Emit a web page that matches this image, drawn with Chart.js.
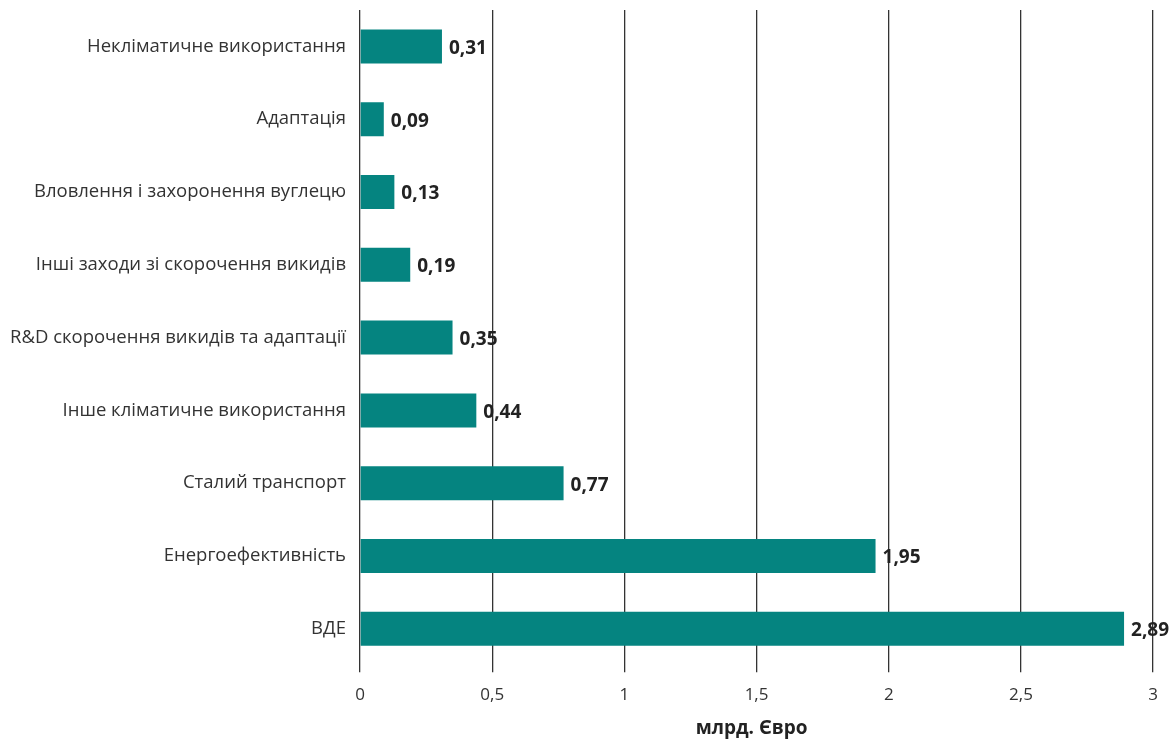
<!DOCTYPE html>
<html>
<head>
<meta charset="utf-8">
<script src="https://cdn.jsdelivr.net/npm/chart.js@4.4.0/dist/chart.umd.min.js"></script>
<style>
  html, body { margin: 0; padding: 0; background: #fff; }
  #wrap { width: 1171px; height: 740px; }
</style>
</head>
<body>
<div id="wrap"><canvas id="chart" width="1171" height="740"></canvas></div>
<script>
const categories = [
    'Некліматичне використання',
    'Адаптація',
    'Вловлення і захоронення вуглецю',
    'Інші заходи зі скорочення викидів',
    'R&D скорочення викидів та адаптації',
    'Інше кліматичне використання',
    'Сталий транспорт',
    'Енергоефективність',
    'ВДЕ'
];
const values = [0.31, 0.09, 0.13, 0.19, 0.35, 0.44, 0.77, 1.95, 2.89];
const axisTitle = 'млрд. Євро';

// value labels next to bar ends + the axis title (slightly left of centre, like the original)
const valueLabels = {
    id: 'valueLabels',
    afterDatasetsDraw(chart) {
        const ctx = chart.ctx;
        const meta = chart.getDatasetMeta(0);
        ctx.save();
        ctx.font = 'bold 19px "Open Sans"';
        ctx.fillStyle = '#222';
        ctx.textAlign = 'left';
        ctx.textBaseline = 'middle';
        meta.data.forEach((bar, i) => {
            ctx.fillText(values[i].toFixed(2).replace('.', ','), bar.x + 7, bar.y + 2);
        });

        const area = chart.chartArea;
        ctx.textAlign = 'center';
        ctx.fillText(axisTitle, (area.left + area.right) / 2 - 5, chart.scales.x.bottom - 10);
        ctx.restore();
    }
};

new Chart(document.getElementById('chart').getContext('2d'), {
    type: 'bar',
    data: {
        labels: categories,
        datasets: [{
            data: values,
            backgroundColor: '#058480',
            categoryPercentage: 1,
            barPercentage: 0.467
        }]
    },
    options: {
        indexAxis: 'y',
        responsive: false,
        animation: false,
        layout: { padding: { top: 10, right: 13, bottom: 1, left: 10 } },
        plugins: {
            legend: { display: false },
            tooltip: { enabled: false }
        },
        scales: {
            x: {
                min: 0,
                max: 3,
                ticks: {
                    stepSize: 0.5,
                    color: '#333',
                    font: { family: 'Open Sans', size: 17 },
                    padding: 13,
                    callback: v => String(v).replace('.', ',')
                },
                grid: {
                    color: '#333',
                    lineWidth: 1.3,
                    tickLength: 7,
                    drawTicks: true
                },
                border: { display: false },
                title: {
                    // reserves the space, text itself is drawn by the plugin
                    display: true,
                    text: axisTitle,
                    color: 'rgba(0,0,0,0)',
                    font: { family: 'Open Sans', size: 17, weight: 'bold' },
                    padding: { top: 0, bottom: 0 }
                }
            },
            y: {
                afterFit(scale) {
                    scale.paddingTop = 0;
                    scale.paddingBottom = 0;
                    scale.width = 350;
                },
                ticks: {
                    color: '#333',
                    font: { family: 'Open Sans', size: 18.5 },
                    padding: 14
                },
                grid: { display: false, drawTicks: false },
                border: { display: false }
            }
        }
    },
    plugins: [valueLabels]
});
</script>
</body>
</html>
